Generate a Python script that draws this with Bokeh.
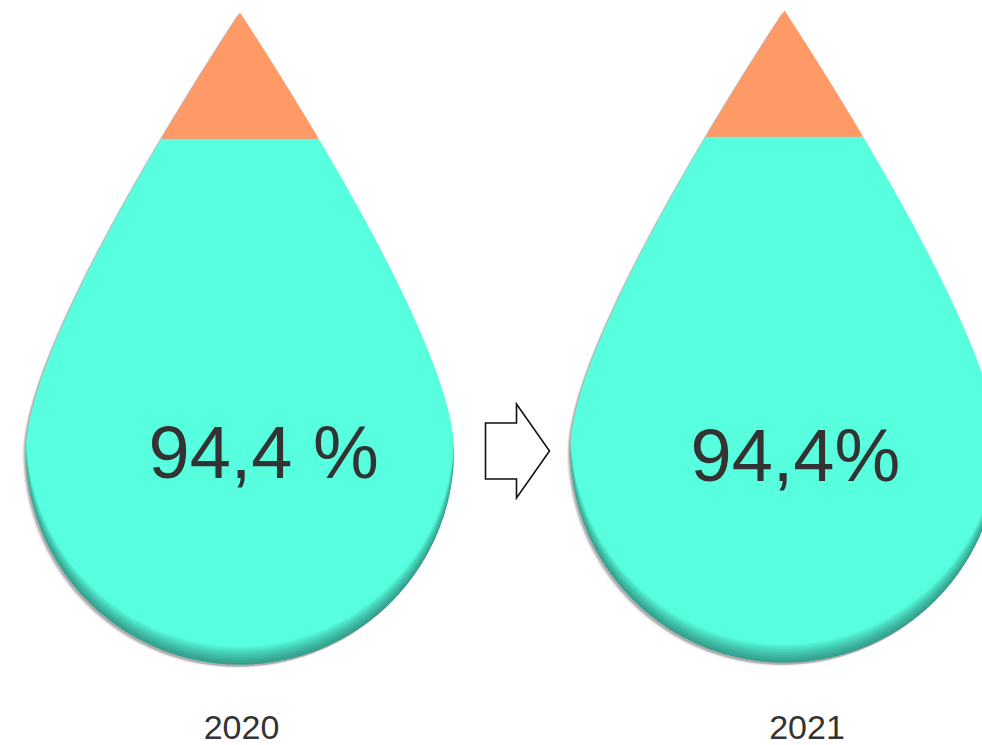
import numpy as np
from bokeh.plotting import figure
from bokeh.models import Range1d, ColumnDataSource
from bokeh.core.properties import value
from bokeh.embed import file_html
from bokeh.resources import INLINE

# ---- data -------------------------------------------------------------
years = ["2020", "2021"]
share_pct = [94.4, 94.4]            # filled (turquoise) share of each drop
share_labels = ["94,4 %", "94,4%"]

# ---- layout (canvas pixels, y measured upward) -------------------------
W, H = 982, 745
drop_cx = [239.5, 784.0]
drop_cy = [295.0, 297.0]   # height of the widest point of each drop
R = 214.0                  # radius of the round bottom / half the widest width
TIP = 438.0                # height of the tip above the widest point
label_x = [148.0, 690.0]
label_y = [293.5, 290.5]
year_x = [241.0, 806.5]
year_y = [18.0, 18.0]

TEAL = "#58FFDE"
ORANGE = "#FF9966"
TEXT = "#333333"
FONT = value("Liberation Sans")


def droplet_profile(n_arc=260, n_bez=260):
    """Right half-width w as a function of height h, bottom to tip."""
    th = np.linspace(-np.pi / 2, 0, n_arc)
    h_arc, w_arc = R * np.sin(th), R * np.cos(th)
    # tapered upper part: cubic Bezier from the widest point up to the tip
    p0 = np.array([0.0, TIP])
    p3 = np.array([R, 0.0])
    p1 = p0 + 110 * np.array([0.548, -0.837])
    p2 = p3 + np.array([0.0, 100.0])
    t = np.linspace(1, 0, n_bez)[1:][:, None]
    b = ((1 - t) ** 3) * p0 + 3 * ((1 - t) ** 2) * t * p1 \
        + 3 * (1 - t) * t ** 2 * p2 + t ** 3 * p3
    h = np.concatenate([h_arc, b[:, 1]])
    w = np.concatenate([w_arc, b[:, 0]])
    return h, w


h_prof, w_prof = droplet_profile()
cum_area = np.concatenate([[0.0], np.cumsum((w_prof[1:] + w_prof[:-1]) * np.diff(h_prof))])


def side_polygon(cx, cy, hs, ws):
    xs = np.concatenate([cx + ws, (cx - ws)[::-1]])
    ys = np.concatenate([cy + hs, (cy + hs)[::-1]])
    return list(xs), list(ys)


fill_xs, fill_ys, top_xs, top_ys = [], [], [], []
outline = []
for cx, cy, pct in zip(drop_cx, drop_cy, share_pct):
    # level at which the filled area equals the share
    h_cut = float(np.interp(pct / 100.0 * cum_area[-1], cum_area, h_prof))
    w_cut = float(np.interp(h_cut, h_prof, w_prof))
    below = h_prof < h_cut
    xs, ys = side_polygon(cx, cy, np.append(h_prof[below], h_cut), np.append(w_prof[below], w_cut))
    fill_xs.append(xs); fill_ys.append(ys)
    xs, ys = side_polygon(cx, cy, np.insert(h_prof[~below], 0, h_cut), np.insert(w_prof[~below], 0, w_cut))
    top_xs.append(xs); top_ys.append(ys)
    outline.append(side_polygon(cx, cy, h_prof, w_prof))

p = figure(width=W, height=H, x_range=Range1d(0, W), y_range=Range1d(0, H),
           output_backend="svg", toolbar_location=None, min_border=0)
p.axis.visible = False
p.xgrid.visible = False
p.ygrid.visible = False
p.outline_line_color = None
p.background_fill_color = "white"
p.border_fill_color = "white"

# soft drop shadow behind each drop (offset down-left)
for (dx, dy, alpha) in [(-3.5, -3.5, 0.10), (-2.5, -2.5, 0.22), (-1.5, -2.0, 0.25)]:
    p.patches([[x + dx for x in o[0]] for o in outline],
              [[y + dy for y in o[1]] for o in outline],
              fill_color="#555555", fill_alpha=alpha, line_color=None)

p.patches(fill_xs, fill_ys, fill_color=TEAL, line_color=None)
p.patches(top_xs, top_ys, fill_color=ORANGE, line_color=None)

# inner shading along the round bottom
th = np.linspace(np.pi, 2 * np.pi, 240)
for d in np.arange(1.5, 19.5, 1.5):
    sx, sy = [], []
    for cx, cy in zip(drop_cx, drop_cy):
        y_out = R * np.sin(th)
        y_in = np.minimum(y_out + d, -y_out)
        x = R * np.cos(th)
        sx.append(list(np.concatenate([cx + x, (cx + x)[::-1]])))
        sy.append(list(np.concatenate([cy + y_out, (cy + y_in)[::-1]])))
    p.patches(sx, sy, fill_color="#0b3b33", fill_alpha=0.05, line_color=None)

# arrow between the two years
ax0, ax1, ax2, ay = 485.0, 516.0, 549.0, 294.5
shaft, head = 28.0, 47.0
p.patch([ax0, ax1, ax1, ax2, ax1, ax1, ax0],
        [ay + shaft, ay + shaft, ay + head, ay, ay - head, ay - shaft, ay - shaft],
        fill_color="white", line_color="#111111", line_width=1.6, line_join="miter")

src = ColumnDataSource(dict(x=label_x, y=label_y, text=share_labels))
p.text(x="x", y="y", text="text", source=src, text_font=FONT, text_font_size="74px",
       text_color=TEXT, text_align="left", text_baseline="middle")

ysrc = ColumnDataSource(dict(x=year_x, y=year_y, text=years))
p.text(x="x", y="y", text="text", source=ysrc, text_font=FONT, text_font_size="34px",
       text_color=TEXT, text_align="center", text_baseline="middle")

open("out.html", "w").write(file_html(p, INLINE))
